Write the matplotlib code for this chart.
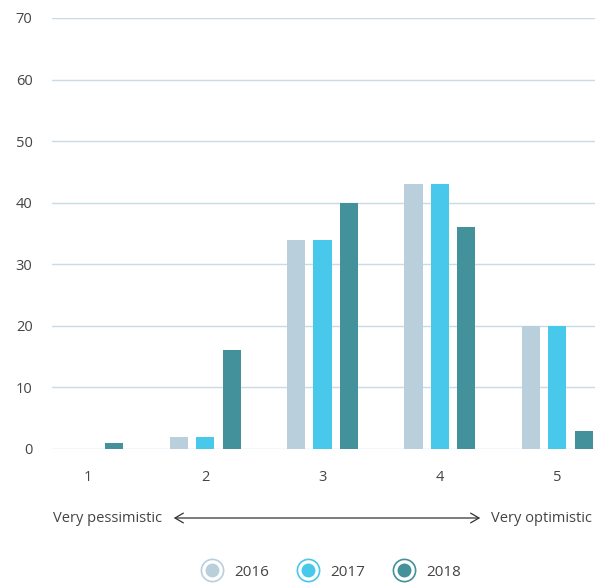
import numpy as np
import matplotlib.pyplot as plt
from matplotlib.lines import Line2D
from matplotlib.legend_handler import HandlerTuple

plt.rcParams['font.family'] = ['Open Sans', 'DejaVu Sans']

categories = ['1', '2', '3', '4', '5']
years = ['2016', '2017', '2018']
values_2016 = [0, 2, 34, 43, 20]
values_2017 = [0, 2, 34, 43, 20]
values_2018 = [1, 16, 40, 36, 3]
colors = ['#b9cfdc', '#48c8ea', '#42919b']

fig = plt.figure(figsize=(6.04, 5.86), dpi=100)
ax = fig.add_axes([0.0861, 0.2338, 0.985 - 0.0861, 0.9693 - 0.2338])

x = np.arange(1, len(categories) + 1)
width = 0.155
step = 0.225
for i, (vals, col) in enumerate(zip([values_2016, values_2017, values_2018], colors)):
    ax.bar(x + (i - 1) * step, vals, width=width, color=col, zorder=3)

ax.set_xlim(0.695, 5.32)
ax.set_ylim(0, 70)
ax.set_yticks(range(0, 71, 10))
ax.set_xticks(x)
ax.set_xticklabels(categories)
ax.grid(axis='y', color='#c9dbe4', linewidth=1.0, zorder=0)
for s in ax.spines.values():
    s.set_visible(False)
ax.tick_params(length=0, labelsize=10.5, colors='#444444')
ax.tick_params(axis='y', pad=14)
ax.tick_params(axis='x', pad=15)

# scale labels with double arrow
fig.text(53 / 604, 1 - 518 / 586, 'Very pessimistic', fontsize=10.5, color='#444444',
         ha='left', va='center')
fig.text(491 / 604, 1 - 518 / 586, 'Very optimistic', fontsize=10.5, color='#444444',
         ha='left', va='center')
ax.annotate('', xy=(483 / 604, 1 - 518 / 586), xytext=(171 / 604, 1 - 518 / 586),
            xycoords='figure fraction', textcoords='figure fraction',
            arrowprops=dict(arrowstyle='<->,head_length=0.6,head_width=0.35',
                            color='#333333', lw=0.9))

# legend: ring + dot markers
handles = []
for col in colors:
    ring = Line2D([], [], marker='o', linestyle='none', markersize=16,
                  markerfacecolor='white', markeredgecolor=col, markeredgewidth=1.2)
    dot = Line2D([], [], marker='o', linestyle='none', markersize=9,
                 markerfacecolor=col, markeredgecolor=col)
    handles.append((ring, dot))
fig.legend(handles, years, handler_map={tuple: HandlerTuple(ndivide=1)},
           loc='center', bbox_to_anchor=(331 / 604, 1 - 572 / 586), ncol=3,
           frameon=False, fontsize=11, labelcolor='#444444',
           handlelength=1.4, handletextpad=0.8, columnspacing=1.8)

fig.savefig('out.png', dpi=100)
